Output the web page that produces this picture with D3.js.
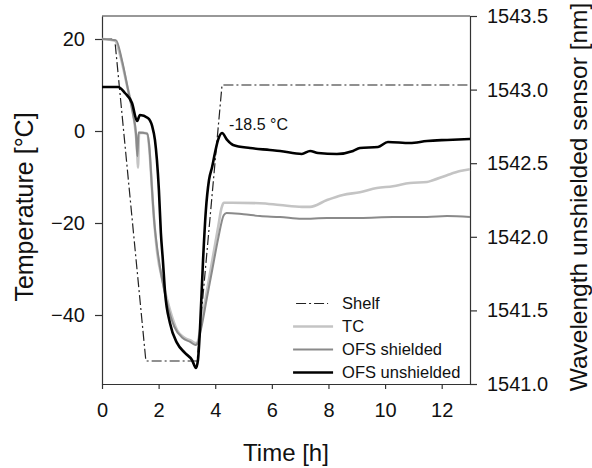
<!DOCTYPE html>
<html>
<head>
<meta charset="utf-8">
<script src="https://cdn.jsdelivr.net/npm/d3@7"></script>
<style>
  body { margin: 0; background: #fff; }
  svg text { font-family: "Liberation Sans", Arial, sans-serif; fill: #111; }
  .axis path, .axis line { stroke: #333; stroke-width: 1.2; }
  .axis text { font-size: 20px; }
</style>
</head>
<body>
<div id="chart"></div>
<script>
const MARGIN = { top: 16, right: 122, bottom: 84, left: 102 };

// time [h] / temperature [°C]
const shelfTime = [0, 0.45, 1.55, 3.36, 4.24, 13];
const shelfTemp = [20, 20, -50, -50, 10, 10];

const tcTime = [0, 0.46, 0.64, 0.88, 1.06, 1.17, 1.24, 1.27, 1.31, 1.45, 1.58, 1.66, 1.73, 1.8, 1.87, 1.94,
  2.15, 2.4, 2.65, 2.93, 3.15, 3.3, 3.36, 3.5, 3.7, 3.9, 4.1, 4.22, 4.3, 4.6, 5.58, 6.29, 7.06, 7.35,
  7.95, 8.51, 9.11, 9.71, 10.28, 10.88, 11.48, 11.69, 12.19, 12.65, 13];
const tcTemp = [20, 19.6, 16.5, 10, 5, 0.7, -4.1, -8, -0.4, -0.4, -0.5, -3, -9, -16, -21.5, -25.9,
  -32.8, -38.9, -43.3, -45, -45.6, -46.1, -46, -42, -35, -28, -21, -16.8, -15.6, -15.6, -15.7, -16.1, -16.5, -16.5,
  -15, -13.9, -13.3, -12.4, -12, -11.3, -11.1, -10.7, -9.6, -8.7, -8.3];

const shieldedTime = [0, 0.5, 0.7, 0.92, 1.1, 1.2, 1.25, 1.29, 1.45, 1.6, 1.68, 1.76, 1.85, 1.94, 2.1, 2.3,
  2.55, 2.85, 3.1, 3.3, 3.36, 3.5, 3.7, 3.9, 4.1, 4.3, 4.4, 5.0, 5.58, 6.29, 7.06, 7.95, 9.11, 10.28,
  11.48, 12.19, 13];
const shieldedTemp = [20, 19.7, 15.5, 9, 3.5, -0.5, -5.5, -0.3, -0.4, -0.6, -4, -12, -20, -25, -31.5, -37.5,
  -42.5, -45, -45.8, -46.5, -46.3, -43, -36.5, -30, -23.5, -18.3, -17.8, -18.1, -18.5, -18.7, -19.1, -18.9, -18.9, -18.7,
  -18.7, -18.5, -18.7];

// time [h] / wavelength [nm], right axis
const unshieldedTime = [0, 0.57, 0.81, 1.06, 1.24, 1.34, 1.62, 1.77, 1.87, 1.94, 2.01, 2.08, 2.15, 2.23, 2.4,
  2.65, 2.93, 3.18, 3.32, 3.39, 3.46, 3.57, 3.67, 3.78, 3.89, 3.99, 4.1, 4.24, 4.42, 4.63, 5.23, 5.93,
  6.29, 7.06, 7.35, 7.63, 8.3, 8.87, 9.11, 9.75, 10.1, 10.88, 11.48, 12.19, 13];
const unshieldedWl = [1543.018, 1543.018, 1542.977, 1542.909, 1542.787, 1542.827, 1542.807, 1542.753, 1542.658,
  1542.522, 1542.318, 1542.026, 1541.842, 1541.618, 1541.414, 1541.279, 1541.211, 1541.163, 1541.109, 1541.163,
  1541.367, 1541.842, 1542.182, 1542.386, 1542.474, 1542.569, 1542.658, 1542.705, 1542.658, 1542.624, 1542.603,
  1542.59, 1542.583, 1542.563, 1542.583, 1542.569, 1542.563, 1542.583, 1542.603, 1542.61, 1542.644, 1542.637,
  1542.651, 1542.658, 1542.664];

const xTicks = [0, 2, 4, 6, 8, 10, 12];
const tempTicks = [-40, -20, 0, 20];
const wlTicks = [1541.0, 1541.5, 1542.0, 1542.5, 1543.0, 1543.5];
const legendLabels = ['Shelf', 'TC', 'OFS shielded', 'OFS unshielded'];
const peakLabel = '-18.5 °C';

const width = 592, height = 468;
const innerW = width - MARGIN.left - MARGIN.right;
const innerH = height - MARGIN.top - MARGIN.bottom;

const svg = d3.select('#chart').append('svg')
  .attr('width', width).attr('height', height)
  .attr('viewBox', `0 0 ${width} ${height}`);
const g = svg.append('g').attr('transform', `translate(${MARGIN.left},${MARGIN.top})`);

const x = d3.scaleLinear().domain([0, 13]).range([0, innerW]);
const yT = d3.scaleLinear().domain([-55, 25]).range([innerH, 0]);
const yW = d3.scaleLinear().domain([1541, 1543.5]).range([innerH, 0]);

const zip = (a, b) => a.map((v, i) => [v, b[i]]);

// frame + axes
g.append('line').attr('x1', 0).attr('x2', innerW).attr('y1', 0).attr('y2', 0)
  .attr('stroke', '#333').attr('stroke-width', 1.2);

g.append('g').attr('class', 'axis')
  .attr('transform', `translate(0,${innerH})`)
  .call(d3.axisBottom(x).tickValues(xTicks).tickSize(5).tickSizeOuter(0).tickPadding(14));
g.append('g').attr('class', 'axis')
  .call(d3.axisLeft(yT).tickValues(tempTicks).tickSize(7).tickSizeOuter(0).tickPadding(10));
g.append('g').attr('class', 'axis')
  .attr('transform', `translate(${innerW},0)`)
  .call(d3.axisRight(yW).tickValues(wlTicks).tickFormat(d3.format('.1f'))
    .tickSize(7).tickSizeOuter(0).tickPadding(10));

// titles
svg.append('text')
  .attr('x', MARGIN.left + innerW / 2).attr('y', 461)
  .attr('text-anchor', 'middle').attr('font-size', 24)
  .text('Time [h]');
svg.append('text')
  .attr('transform', 'rotate(-90)')
  .attr('x', -207).attr('y', 33)
  .attr('text-anchor', 'middle').attr('font-size', 25)
  .text('Temperature [°C]');
svg.append('text')
  .attr('transform', 'rotate(-90)')
  .attr('x', -197).attr('y', 587)
  .attr('text-anchor', 'middle').attr('font-size', 24.5)
  .text('Wavelength unshielded sensor [nm]');

// series
const lineT = d3.line().x((p) => x(p[0])).y((p) => yT(p[1]));
const lineW = d3.line().x((p) => x(p[0])).y((p) => yW(p[1])).curve(d3.curveMonotoneX);
const lineTs = d3.line().x((p) => x(p[0])).y((p) => yT(p[1])).curve(d3.curveMonotoneX);

const styles = [
  { stroke: '#222', width: 1.2, dash: '10,3,2,3' },
  { stroke: '#c4c4c4', width: 2.6, dash: null },
  { stroke: '#8a8a8a', width: 2, dash: null },
  { stroke: '#000', width: 2.6, dash: null },
];

g.append('path').datum(zip(shelfTime, shelfTemp))
  .attr('fill', 'none').attr('stroke', styles[0].stroke).attr('stroke-width', styles[0].width)
  .attr('stroke-dasharray', styles[0].dash).attr('d', lineT);
g.append('path').datum(zip(tcTime, tcTemp))
  .attr('fill', 'none').attr('stroke', styles[1].stroke).attr('stroke-width', styles[1].width)
  .attr('stroke-linejoin', 'round').attr('d', lineTs);
g.append('path').datum(zip(shieldedTime, shieldedTemp))
  .attr('fill', 'none').attr('stroke', styles[2].stroke).attr('stroke-width', styles[2].width)
  .attr('stroke-linejoin', 'round').attr('d', lineTs);
g.append('path').datum(zip(unshieldedTime, unshieldedWl))
  .attr('fill', 'none').attr('stroke', styles[3].stroke).attr('stroke-width', styles[3].width)
  .attr('stroke-linejoin', 'round').attr('d', lineW);

// peak annotation
g.append('text')
  .attr('x', x(4.49)).attr('y', yT(0.2))
  .attr('font-size', 16)
  .text(peakLabel);

// legend
const legend = g.append('g').attr('transform', `translate(${x(6.75)},${yT(-37.5)})`);
legendLabels.forEach((label, i) => {
  const row = legend.append('g').attr('transform', `translate(0,${i * 23})`);
  const s = styles[i];
  row.append('line')
    .attr('x1', i === 0 ? 3 : 0).attr('x2', i === 0 ? 35 : 40)
    .attr('y1', 0).attr('y2', 0)
    .attr('stroke', s.stroke).attr('stroke-width', s.width)
    .attr('stroke-dasharray', s.dash);
  row.append('text')
    .attr('x', 49).attr('y', 0).attr('dy', '0.35em')
    .attr('font-size', 16.5)
    .text(label);
});
</script>
</body>
</html>
